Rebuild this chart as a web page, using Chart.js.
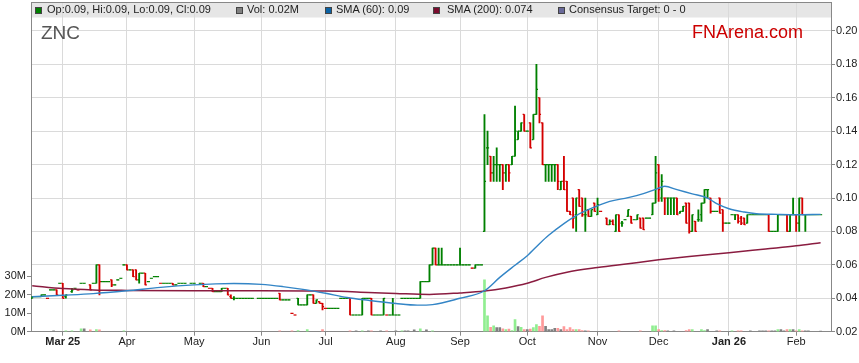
<!DOCTYPE html>
<html>
<head>
<meta charset="utf-8">
<title>ZNC</title>
<script src="https://cdn.jsdelivr.net/npm/chart.js@4.4.1/dist/chart.umd.min.js"></script>
<style>
  html, body { margin: 0; padding: 0; background: #fff; }
  #wrap { position: relative; width: 859px; height: 363px; overflow: hidden;
          font-family: "Liberation Sans", Arial, sans-serif; }
  #chart { position: absolute; left: 0; top: 0; }
  .box { position: absolute; top: 7px; width: 5px; height: 5px; border: 1px solid #444; }
  .lbl { position: absolute; top: 3px; font-size: 11px; line-height: 13px; color: #222; white-space: nowrap; }
  #sym { position: absolute; left: 41px; top: 23px; font-size: 19px; line-height: 19px; color: #555; }
  #brand { position: absolute; left: 692px; top: 23px; font-size: 18px; line-height: 18px; color: #cc0000; }
</style>
</head>
<body>
<div id="wrap">
  <canvas id="chart" width="859" height="363"></canvas>
  <span class="box" style="left:35px;background:#008000"></span><span class="lbl" style="left:47px">Op:0.09, Hi:0.09, Lo:0.09, Cl:0.09</span>
  <span class="box" style="left:236px;background:#808080"></span><span class="lbl" style="left:247px">Vol: 0.02M</span>
  <span class="box" style="left:325px;background:#0b62a4"></span><span class="lbl" style="left:336px">SMA (60): 0.09</span>
  <span class="box" style="left:433px;background:#7a0c2e"></span><span class="lbl" style="left:447px">SMA (200): 0.074</span>
  <span class="box" style="left:558px;background:#6a6a9a"></span><span class="lbl" style="left:569px">Consensus Target: 0 - 0</span>
  <div id="sym">ZNC</div>
  <div id="brand">FNArena.com</div>
</div>
<script>
'use strict';

// One slot per weekday, slot 0 = Mon 17 Feb 2025. null = no trade that day.
const open = [
  .040,.041,.041,.041,.042,.040,.045,.045,.045,.049,
  .049,.041,null,.044,.046,.045,.049,.049,null,.048,
  .049,.049,.060,.050,.050,.050,.051,.048,.051,.052,
  .060,.060,.057,.057,.057,.051,.055,.055,.050,.052,
  .053,.053,.049,.049,.049,.049,.049,.048,.049,.049,
  .049,null,.049,.049,null,.049,.049,.047,.046,.046,
  .044,.044,.044,.046,.046,.041,.040,.040,.040,.040,
  .040,.040,.040,null,.040,.040,.040,.040,.040,.040,
  .040,.043,.039,.039,.039,.031,.030,.040,.036,.036,
  .036,.042,.042,.037,.038,.037,.034,.034,.034,.034,
  .034,.040,.040,.040,.040,.030,.030,.030,.030,.040,
  .040,.040,.030,.030,.030,.030,.030,.030,.030,.030,
  .030,.040,.040,.040,.040,.040,.040,.040,.050,.050,
  .050,.060,.070,.060,.060,.060,.060,.060,.060,.060,
  .060,.060,.060,.060,.058,.058,.060,.060,.080,.130,
  .125,.115,.120,.120,.120,.115,.120,.120,.125,.135,
  .140,.150,.140,.145,.135,.150,.160,.145,.120,.120,
  .120,.120,.120,.105,.110,.110,.092,.100,.090,.105,
  .100,.090,.093,.089,.097,.090,.092,null,.088,.084,
  .086,.080,.090,.085,.087,.089,.089,.087,.087,.088,
  .088,.088,.088,.090,.097,.120,.100,.100,.100,.100,
  .100,.100,.091,.092,.097,.097,.080,.086,.087,.090,
  .097,.105,.100,.092,.092,.100,.093,.085,.085,.090,
  .090,.090,.088,.088,.085,.090,.090,.090,.090,.090,
  .090,.090,.080,.080,.080,.090,.090,.090,.080,.090,
  .090,.085,.100,.090,.090,.090,.090,.090,.090
];
const high = [
  .041,.041,.041,.042,.042,.040,.045,.045,.045,.049,
  .049,.042,null,.046,.046,.045,.049,.049,null,.048,
  .049,.060,.060,.050,.050,.050,.051,.048,.051,.052,
  .060,.060,.057,.057,.057,.055,.055,.055,.050,.052,
  .053,.053,.049,.049,.049,.049,.049,.048,.049,.049,
  .049,null,.049,.049,null,.049,.049,.047,.046,.046,
  .044,.044,.046,.046,.046,.042,.041,.040,.040,.040,
  .040,.040,.040,null,.040,.040,.040,.040,.040,.040,
  .040,.043,.039,.039,.039,.031,.030,.040,.036,.036,
  .042,.042,.042,.039,.038,.037,.034,.034,.034,.034,
  .034,.040,.040,.040,.040,.030,.030,.030,.040,.040,
  .040,.040,.030,.030,.030,.040,.030,.030,.040,.030,
  .030,.040,.040,.040,.040,.040,.040,.050,.050,.050,
  .060,.070,.070,.070,.070,.060,.060,.060,.060,.060,
  .070,.060,.060,.060,.058,.060,.060,.060,.150,.140,
  .125,.125,.130,.120,.120,.120,.120,.125,.155,.140,
  .145,.150,.140,.145,.150,.180,.160,.145,.120,.120,
  .120,.120,.120,.110,.125,.110,.092,.100,.100,.105,
  .100,.100,.093,.093,.097,.100,.092,null,.088,.087,
  .087,.090,.090,.086,.087,.093,.089,.087,.090,.088,
  .088,.088,.088,.097,.125,.120,.114,.100,.100,.100,
  .100,.100,.092,.095,.097,.097,.090,.086,.093,.097,
  .105,.105,.100,.092,.092,.100,.093,.085,.085,.090,
  .090,.090,.089,.088,.090,.090,.090,.090,.090,.090,
  .090,.090,.080,.080,.090,.090,.090,.090,.090,.100,
  .090,.100,.100,.090,.090,.090,.090,.090,.090
];
const low = [
  .040,.041,.041,.041,.042,.040,.045,.045,.042,.049,
  .040,.040,null,.0435,.046,.045,.049,.049,null,.045,
  .049,.049,.042,.050,.050,.050,.047,.048,.051,.052,
  .060,.057,.057,.053,.051,.049,.055,.048,.050,.052,
  .053,.053,.049,.049,.049,.049,.048,.048,.049,.049,
  .049,null,.049,.049,null,.049,.047,.047,.046,.044,
  .044,.044,.044,.046,.042,.040,.039,.040,.040,.040,
  .040,.040,.040,null,.040,.040,.040,.040,.040,.040,
  .040,.039,.039,.039,.039,.031,.030,.036,.036,.036,
  .036,.042,.037,.037,.037,.033,.034,.034,.034,.034,
  .034,.040,.040,.040,.030,.030,.030,.030,.030,.040,
  .040,.030,.030,.030,.030,.030,.030,.030,.030,.030,
  .030,.040,.040,.040,.040,.040,.040,.040,.050,.050,
  .050,.060,.060,.060,.060,.060,.060,.060,.060,.060,
  .060,.060,.060,.060,.058,.058,.060,.060,.080,.120,
  .110,.110,.110,.110,.105,.110,.110,.120,.125,.135,
  .140,.140,.140,.130,.135,.150,.145,.120,.110,.110,
  .110,.110,.105,.105,.105,.092,.090,.082,.080,.095,
  .089,.080,.089,.089,.092,.090,.092,null,.084,.084,
  .084,.080,.080,.083,.087,.089,.085,.087,.087,.082,
  .081,.088,.088,.090,.097,.098,.098,.090,.090,.090,
  .090,.090,.091,.092,.085,.079,.080,.080,.086,.086,
  .097,.100,.091,.092,.092,.091,.080,.085,.085,.090,
  .087,.085,.084,.084,.085,.090,.090,.090,.090,.090,
  .090,.080,.080,.080,.080,.090,.090,.080,.080,.090,
  .080,.080,.090,.080,.090,.090,.090,.090,.090
];
const close = [
  .041,.041,.041,.042,.042,.040,.045,.045,.042,.049,
  .040,.042,null,.045,.046,.045,.049,.049,null,.045,
  .049,.060,.050,.050,.050,.050,.048,.048,.051,.052,
  .060,.057,.057,.053,.051,.055,.055,.048,.050,.052,
  .053,.053,.049,.049,.049,.049,.048,.048,.049,.049,
  .049,null,.049,.049,null,.049,.047,.047,.046,.044,
  .044,.044,.046,.046,.042,.040,.040,.040,.040,.040,
  .040,.040,.040,null,.040,.040,.040,.040,.040,.040,
  .040,.039,.039,.039,.039,.031,.030,.036,.036,.036,
  .042,.042,.037,.039,.037,.035,.034,.034,.034,.034,
  .034,.040,.040,.040,.030,.030,.030,.030,.040,.040,
  .040,.030,.030,.030,.030,.040,.030,.030,.030,.030,
  .030,.040,.040,.040,.040,.040,.040,.050,.050,.050,
  .060,.070,.060,.060,.060,.060,.060,.060,.060,.060,
  .060,.060,.060,.060,.058,.060,.060,.060,.110,.130,
  .115,.120,.120,.120,.115,.120,.115,.125,.140,.140,
  .145,.140,.140,.130,.150,.165,.150,.120,.120,.120,
  .120,.120,.110,.110,.105,.092,.090,.088,.100,.095,
  .090,.090,.089,.093,.092,.096,.092,null,.084,.086,
  .084,.090,.080,.085,.087,.093,.085,.087,.090,.082,
  .081,.088,.088,.097,.115,.105,.110,.100,.100,.100,
  .100,.090,.092,.095,.085,.080,.090,.080,.087,.097,
  .105,.105,.092,.092,.092,.091,.085,.085,.085,.090,
  .090,.086,.085,.084,.090,.090,.090,.090,.090,.090,
  .090,.080,.080,.080,.090,.090,.090,.080,.090,.090,
  .085,.100,.090,.090,.090,.090,.090,.090,.090
];
// volume in millions
const volume = [
  0,0,0,0,0,0,0,.5,0,0,
  0,.5,0,.5,0,0,1.6,1.6,0,1.0,
  0,1.1,1.0,0,0,0,0,0,0,0,
  .5,0,0,0,0,0,0,0,0,0,
  0,0,0,0,0,0,0,0,0,0,
  0,0,0,0,0,0,0,0,0,0,
  0,0,0,0,0,0,0,0,0,0,
  0,0,0,0,0,0,0,0,0,0,
  0,.5,0,0,0,.5,0,.6,0,0,
  1.1,0,0,0,0,1.1,0,0,0,0,
  0,0,0,0,.5,0,.5,0,.5,0,
  .5,.5,0,0,.5,0,.5,0,0,.5,
  0,.5,.5,.5,0,1.0,0,1.6,0,1.0,
  0,.5,0,0,0,0,0,0,0,0,
  0,0,0,0,0,0,0,0,28,8.6,
  2.3,3.2,2.2,2.2,1.6,1.1,1.4,.6,6.5,2.7,
  2.3,1.1,1.1,1.4,2.2,3.8,2.9,8.6,2.9,1.1,
  1.1,1.8,1.8,1.1,2.7,1.1,2.2,1.1,1.1,1.1,
  .6,.5,.5,0,0,0,0,0,0,0,
  0,0,.5,0,0,0,0,0,0,.5,
  0,0,0,3.2,3.2,1.1,.6,.6,.5,0,
  .5,0,0,0,.6,1.1,1.1,0,0,1.1,
  .6,1.1,0,0,.5,.5,0,0,0,.5,
  0,.5,.5,0,0,.5,0,0,.5,.5,
  .5,.5,.5,.5,1.1,1.1,.5,1.1,1.1,1.1,
  .5,1.1,.5,.5,.5,0,0,0,.02
];

// moving averages at these weekday slots
const sma60Days = [0,10,20,31,42,53,60,66,75,82,88,96,103,110,119,126,131,140,148,153,
  158,162,166,169,174,178,184,189,195,200,204,207,211,216,221,224,228,233,237,244,250,258];
const sma60 = [.0409,.0418,.0428,.0445,.0465,.0480,.0486,.0488,.0483,.0470,.0455,.0430,.0405,.0388,.0369,.0359,.0362,.0400,.0445,.0525,
  .0598,.0655,.0727,.0777,.0847,.0895,.0946,.0980,.1002,.1026,.1052,.1070,.1050,.1025,.1000,.0966,.0936,.0916,.0906,.0902,.0900,.0902];
const sma200Days = [0,10,20,31,53,75,96,110,119,130,140,148,155,162,168,175,185,195,205,215,228,240,250,258];
const sma200 = [.0475,.0458,.0450,.0447,.0445,.0445,.0443,.0435,.0429,.0423,.0432,.0443,.0462,.0490,.0525,.0556,.0584,.0607,.0630,.0650,.0672,.0695,.0714,.0733];

const monthDays = [10, 31, 53, 75, 96, 119, 140, 162, 185, 205, 228, 250];
const monthLabels = ['Mar 25', 'Apr', 'May', 'Jun', 'Jul', 'Aug', 'Sep', 'Oct', 'Nov', 'Dec', 'Jan 26', 'Feb'];
const boldLabels = ['Mar 25', 'Jan 26'];
const priceTicks = [0.02, 0.04, 0.06, 0.08, 0.10, 0.12, 0.14, 0.16, 0.18, 0.20];
const volTicks = [0, 10, 20, 30];

const UP = '#008000', DOWN = '#d40000';
const VOL_UP = '#90ee90', VOL_DOWN = '#ff9a9a', VOL_FLAT = '#808080';

// OHLC bars: range as a thin floating bar, open/close as short ticks
const rangePts = [], openPts = [], closePts = [], barCol = [];
let prevClose = null;
close.forEach((c, i) => {
  if (c == null) return;
  const col = (prevClose != null && c < prevClose) ? DOWN : UP;
  rangePts.push({ x: i, y: [low[i], high[i]] });
  openPts.push({ x: i - 0.25, y: open[i] });
  closePts.push({ x: i + 0.25, y: c });
  barCol.push(col);
  prevClose = c;
});

const volPts = [], volCol = [];
let lastClose = null;
volume.forEach((v, i) => {
  const c = close[i];
  if (v > 0) {
    let col = VOL_FLAT;
    if (c != null && lastClose != null) col = c > lastClose ? VOL_UP : c < lastClose ? VOL_DOWN : VOL_FLAT;
    volPts.push({ x: i, y: v });
    volCol.push(col);
  }
  if (c != null) lastClose = c;
});

const sma60Pts = sma60Days.map((d, k) => ({ x: d, y: sma60[k] }));
const sma200Pts = sma200Days.map((d, k) => ({ x: d, y: sma200[k] }));

// grey strip behind the legend, and the top frame line
const frame = {
  id: 'frame',
  beforeDraw(chart) {
    const { ctx, chartArea: a } = chart;
    ctx.save();
    ctx.fillStyle = '#e6e6e6';
    ctx.fillRect(a.left, a.top, a.right - a.left, 15.5);
    ctx.restore();
  },
  afterDraw(chart) {
    const { ctx, chartArea: a } = chart;
    ctx.save();
    ctx.strokeStyle = '#888';
    ctx.lineWidth = 1;
    ctx.beginPath();
    ctx.moveTo(a.left, a.top + 0.5);
    ctx.lineTo(a.right, a.top + 0.5);
    ctx.stroke();
    ctx.restore();
  }
};

// fixed axis sizes so the plot area lands where the original has it
function fixV(w) {
  return s => { s.width = w; s.paddingTop = 0; s.paddingBottom = 0; };
}

Chart.defaults.font.family = '"Liberation Sans", Arial, sans-serif';
Chart.defaults.font.size = 11;
Chart.defaults.color = '#222';

const tickStyle = { showLine: false, pointStyle: 'line', pointRadius: 0.8, pointHoverRadius: 0.8,
  pointBorderWidth: 1.2, pointHitRadius: 0, yAxisID: 'price', order: 3 };

new Chart(document.getElementById('chart'), {
  type: 'bar',
  data: {
    datasets: [
      { type: 'line', label: 'SMA (60)', data: sma60Pts, yAxisID: 'price', borderColor: '#3385c6',
        borderWidth: 1.4, pointRadius: 0, cubicInterpolationMode: 'monotone', order: 1 },
      { type: 'line', label: 'SMA (200)', data: sma200Pts, yAxisID: 'price', borderColor: '#8a1c40',
        borderWidth: 1.5, pointRadius: 0, cubicInterpolationMode: 'monotone', order: 2 },
      Object.assign({ type: 'line', label: 'Open', data: openPts, pointBorderColor: barCol, pointBackgroundColor: barCol }, tickStyle),
      Object.assign({ type: 'line', label: 'Close', data: closePts, pointBorderColor: barCol, pointBackgroundColor: barCol }, tickStyle),
      { type: 'bar', label: 'Range', data: rangePts, backgroundColor: barCol, barThickness: 1.2,
        grouped: false, yAxisID: 'price', order: 4 },
      { type: 'bar', label: 'Volume', data: volPts, backgroundColor: volCol, barThickness: 2,
        grouped: false, yAxisID: 'vol', order: 5 }
    ]
  },
  options: {
    responsive: false,
    devicePixelRatio: 1,
    animation: false,
    events: [],
    layout: { padding: { top: 1, left: 0, right: 0, bottom: 0 } },
    plugins: { legend: { display: false }, tooltip: { enabled: false } },
    scales: {
      x: {
        type: 'linear', min: -0.4, max: 261.4, offset: false,
        afterBuildTicks: s => { s.ticks = monthDays.map(v => ({ value: v })); },
        afterFit: s => { s.height = 31.3; s.paddingLeft = 0; s.paddingRight = 0; },
        ticks: {
          autoSkip: false, maxRotation: 0, padding: 0,
          callback: v => monthLabels[monthDays.indexOf(v)],
          font: c => ({ size: 11, weight: (c.tick && boldLabels.includes(c.tick.label)) ? 'bold' : 'normal' })
        },
        grid: { color: '#dadada', tickColor: '#888', tickLength: 4, offset: false },
        border: { color: '#888' }
      },
      price: {
        type: 'linear', position: 'right', min: 0.02, max: 0.2173,
        afterBuildTicks: s => { s.ticks = priceTicks.map(v => ({ value: v })); },
        afterFit: fixV(28),
        ticks: { padding: 1, callback: v => v.toFixed(2) },
        grid: { color: '#dadada', tickColor: '#888', tickLength: 4 },
        border: { color: '#888' }
      },
      vol: {
        type: 'linear', position: 'left', min: 0, max: 178,
        afterBuildTicks: s => { s.ticks = volTicks.map(v => ({ value: v })); },
        afterFit: fixV(31),
        ticks: { padding: 1, callback: v => v + 'M' },
        grid: { drawOnChartArea: false, tickColor: '#888', tickLength: 4 },
        border: { color: '#888' }
      }
    }
  },
  plugins: [frame]
});
</script>
</body>
</html>
